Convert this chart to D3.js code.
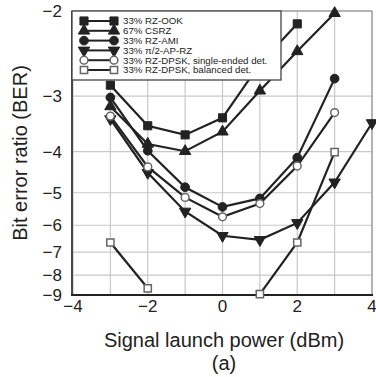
<!DOCTYPE html>
<html>
<head>
<meta charset="utf-8">
<script src="https://cdn.jsdelivr.net/npm/d3@7"></script>
<style>
  body { margin: 0; background: #fff; }
  text { font-family: Arial, "Liberation Sans", sans-serif; fill: #222; }
</style>
</head>
<body>
<script>
// chart size
var width = 376,
	height = 377;

// data: launch power (dBm) and log10(BER); null = below 1e-9 (error free)
var power = [-3, -2, -1, 0, 1, 2, 3, 4];
var rzOok = [-2.84, -3.49, -3.66, -3.35, -2.56, -2.12, null, null];
var csrz = [-3.16, -3.84, -3.99, -3.60, -2.92, -2.41, -2.02, null];
var rzAmi = [-3.02, -3.98, -4.85, -5.41, -5.16, -4.13, -2.75, null];
var apRz = [-3.37, -4.48, -5.55, -6.37, -6.52, -5.92, -4.72, -3.44];
var dpskSingle = [-3.32, -4.34, -5.13, -5.72, -5.31, -4.32, -3.26, null];
var dpskBalanced = [-6.62, -8.65, null, null, -8.95, -6.62, -4.01, null];

var seriesNames = ['33% RZ-OOK', '67% CSRZ', '33% RZ-AMI', '33% \u03c0/2-AP-RZ',
	'33% RZ-DPSK, single-ended det.', '33% RZ-DPSK, balanced det.'];

var xTicks = [-4, -2, 0, 2, 4];
var xGrid = [-4, -3, -2, -1, 0, 1, 2, 3, 4];
var yTicks = [-2, -3, -4, -5, -6, -7, -8, -9];

// marker styles: symbol, filled or open, rotation
var markers = [
	{ type: d3.symbolSquare, size: 66, open: false, rot: 0 },
	{ type: d3.symbolTriangle, size: 56, open: false, rot: 0 },
	{ type: d3.symbolCircle, size: 60, open: false, rot: 0 },
	{ type: d3.symbolTriangle, size: 56, open: false, rot: 180 },
	{ type: d3.symbolCircle, size: 48, open: true, rot: 0 },
	{ type: d3.symbolSquare, size: 52, open: true, rot: 0 }
];

var allSeries = [rzOok, csrz, rzAmi, apRz, dpskSingle, dpskBalanced];

// inverse normal CDF (Acklam), used to turn BER into Q factor
function invNorm(p) {
	var a = [-3.969683028665376e+01, 2.209460984245205e+02, -2.759285104469687e+02, 1.383577518672690e+02, -3.066479806614716e+01, 2.506628277459239e+00];
	var b = [-5.447609879822406e+01, 1.615858368580409e+02, -1.556989798598866e+02, 6.680131188771972e+01, -1.328068155288572e+01];
	var c = [-7.784894002430293e-03, -3.223964580411365e-01, -2.400758277161838e+00, -2.549732539343734e+00, 4.374664141464968e+00, 2.938163982698783e+00];
	var d = [7.784695709041462e-03, 3.224671290700398e-01, 2.445134137142996e+00, 3.754408661907416e+00];
	var q, r;
	if (p < 0.02425) {
		q = Math.sqrt(-2 * Math.log(p));
		return (((((c[0]*q+c[1])*q+c[2])*q+c[3])*q+c[4])*q+c[5]) / ((((d[0]*q+d[1])*q+d[2])*q+d[3])*q+1);
	}
	q = p - 0.5; r = q * q;
	return (((((a[0]*r+a[1])*r+a[2])*r+a[3])*r+a[4])*r+a[5])*q / (((((b[0]*r+b[1])*r+b[2])*r+b[3])*r+b[4])*r+1);
}
// log10(BER) -> Q
function qOf(e) { return -invNorm(Math.pow(10, e)); }

var svg = d3.select('body')
	.append('svg')
	.attr('width', width)
	.attr('height', height);

var x = d3.scaleLinear().domain([-4, 4]).range([73, 372]);
// Q-factor axis on log scale (BER labels)
var y = d3.scaleLog().domain([qOf(-2), qOf(-9)]).range([11, 295]);
function yv(e) { return y(qOf(e)); }

// grid
svg.append('g')
	.selectAll('line')
	.data(xGrid)
	.enter().append('line')
	.attr('x1', function(d) { return x(d); })
	.attr('x2', function(d) { return x(d); })
	.attr('y1', 11).attr('y2', 295)
	.attr('stroke', '#c8c8c8')
	.attr('stroke-width', 1.2);

svg.append('g')
	.selectAll('line')
	.data(yTicks)
	.enter().append('line')
	.attr('x1', 73).attr('x2', 372)
	.attr('y1', function(d) { return yv(d); })
	.attr('y2', function(d) { return yv(d); })
	.attr('stroke', '#c8c8c8')
	.attr('stroke-width', 1.2);

// frame
svg.append('rect')
	.attr('x', 72).attr('y', 11)
	.attr('width', 300).attr('height', 284)
	.attr('fill', 'none')
	.attr('stroke', '#888')
	.attr('stroke-width', 1);
svg.append('line')
	.attr('x1', 72).attr('x2', 72).attr('y1', 11).attr('y2', 296)
	.attr('stroke', '#222').attr('stroke-width', 1.5);
svg.append('line')
	.attr('x1', 71).attr('x2', 373).attr('y1', 295).attr('y2', 295)
	.attr('stroke', '#222').attr('stroke-width', 2);

// tick labels
svg.append('g')
	.selectAll('text')
	.data(xTicks)
	.enter().append('text')
	.attr('x', function(d) { return x(d); })
	.attr('y', 312)
	.attr('text-anchor', 'middle')
	.style('font-size', '17px')
	.text(function(d) { return d3.format('d')(d); });

svg.append('g')
	.selectAll('text')
	.data(yTicks)
	.enter().append('text')
	.attr('x', 62)
	.attr('y', function(d) { return yv(d); })
	.attr('dy', '0.35em')
	.attr('text-anchor', 'end')
	.style('font-size', '17px')
	.text(function(d) { return d3.format('d')(d); });

// axis titles
svg.append('text')
	.attr('x', 224).attr('y', 347)
	.attr('text-anchor', 'middle')
	.style('font-size', '20px')
	.text('Signal launch power (dBm)');
svg.append('text')
	.attr('x', 224).attr('y', 370)
	.attr('text-anchor', 'middle')
	.style('font-size', '20px')
	.text('(a)');
svg.append('text')
	.attr('transform', 'translate(27,153) rotate(-90)')
	.attr('text-anchor', 'middle')
	.style('font-size', '20px')
	.text('Bit error ratio (BER)');

// lines + markers
var line = d3.line()
	.defined(function(d) { return d[1] !== null; })
	.x(function(d) { return x(d[0]); })
	.y(function(d) { return yv(d[1]); });

function drawMarker(g, m, cx, cy) {
	g.append('path')
		.attr('d', d3.symbol().type(m.type).size(m.size))
		.attr('transform', 'translate(' + cx + ',' + cy + ') rotate(' + m.rot + ')')
		.attr('fill', m.open ? '#fff' : '#222')
		.attr('stroke', m.open ? '#666' : '#222')
		.attr('stroke-width', m.open ? 1.5 : 1);
}

allSeries.forEach(function(vals, i) {
	var pts = power.map(function(p, j) { return [p, vals[j]]; });
	var g = svg.append('g');
	g.append('path')
		.datum(pts)
		.attr('d', line)
		.attr('fill', 'none')
		.attr('stroke', '#222')
		.attr('stroke-width', 2.2);
	pts.filter(function(d) { return d[1] !== null; }).forEach(function(d) {
		drawMarker(g, markers[i], x(d[0]), yv(d[1]));
	});
});

// legend, white box over the lines
var legend = svg.append('g');
legend.append('rect')
	.attr('x', 72).attr('y', 11)
	.attr('width', 209).attr('height', 69)
	.attr('fill', '#fff')
	.attr('stroke', '#444')
	.attr('stroke-width', 1.3);

seriesNames.forEach(function(name, i) {
	var ly = 21 + i * 9.8;
	legend.append('line')
		.attr('x1', 84).attr('x2', 114)
		.attr('y1', ly).attr('y2', ly)
		.attr('stroke', '#222').attr('stroke-width', 2);
	drawMarker(legend, markers[i], 84, ly);
	drawMarker(legend, markers[i], 114, ly);
	legend.append('text')
		.attr('x', 123).attr('y', ly)
		.attr('dy', '0.35em')
		.style('font-size', '9.7px')
		.text(name);
});
</script>
</body>
</html>
